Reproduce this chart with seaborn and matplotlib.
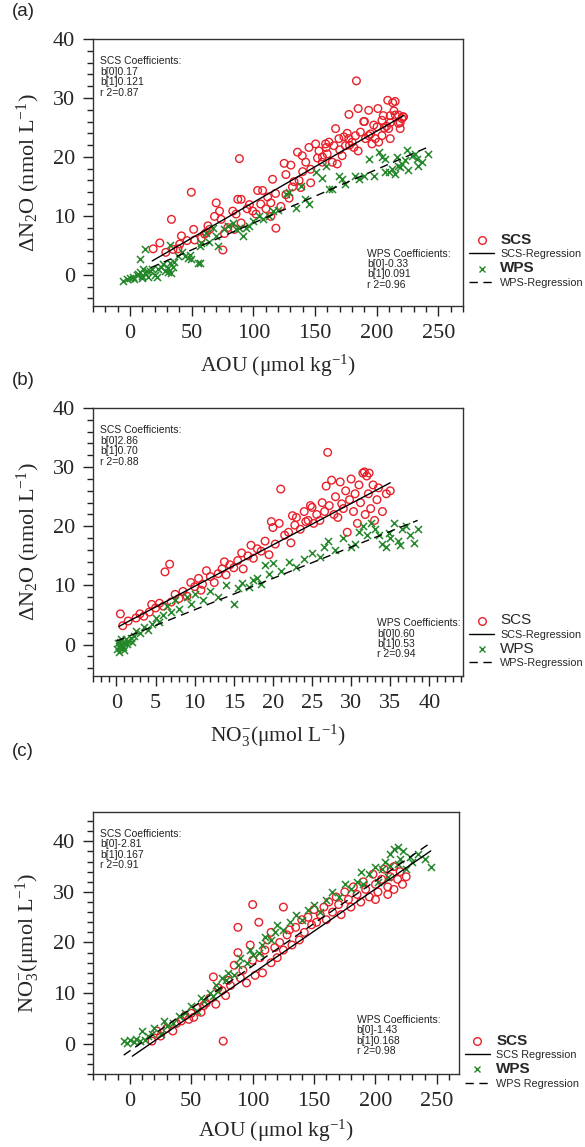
import numpy as np
import pandas as pd
import matplotlib
matplotlib.use("Agg")
import matplotlib.pyplot as plt
from matplotlib.ticker import MultipleLocator
from matplotlib.lines import Line2D
from matplotlib import font_manager as fm
import seaborn as sns

# ---------------- data ----------------
# Panel (a): AOU vs dN2O
a_scs_x = [18.8, 24.2, 29.0, 33.6, 34.9, 38.9, 40.3, 41.7, 46.2, 49.7, 51.6, 52.4, 57.8, 60.5, 63.2, 64.5,
           69.9, 68.5, 72.6, 73.9, 75.3, 76.6, 79.3, 83.3, 86.0, 84.7, 87.4, 90.1, 88.7, 90.1, 96.8, 99.5,
           102.2, 103.5, 107.5, 110.2, 111.6, 114.2, 115.6, 114.2, 118.3, 122.3, 126.4, 129.0, 125.0, 130.4,
           126.4, 131.7, 135.8, 137.1, 138.4, 139.7, 142.5, 145.1, 146.5, 146.5, 150.5, 153.2, 155.9, 158.6,
           159.1, 159.9, 161.3, 164.0, 165.3, 166.7, 168.0, 169.4, 172.0, 173.4, 174.7, 176.1, 177.4, 180.1,
           181.5, 182.8, 186.8, 189.5, 190.9, 193.5, 196.2, 198.9, 200.3, 201.6, 204.3, 209.7, 211.0, 215.1,
           217.7, 219.1, 220.4, 221.8, 183.6, 209.0, 213.0, 215.0, 185.0, 177.5, 193.5, 201.0, 205.4, 211.0,
           217.7, 221.2, 190.1, 204.3, 211.0, 219.1, 197.6, 206.2, 95.0, 118.0, 140.0, 152.0, 170.0, 185.0,
           62.0, 106.0, 133.0, 156.0, 178.0, 195.0, 208.0, 214.0]
a_scs_y = [4.4, 5.4, 3.8, 9.4, 4.3, 4.4, 5.2, 6.6, 5.8, 14.0, 7.7, 5.9, 6.2, 6.9, 8.3, 7.7,
           12.2, 9.9, 10.8, 9.4, 4.2, 7.0, 8.0, 10.8, 10.3, 7.7, 12.8, 12.8, 19.7, 8.8, 11.9, 10.8,
           10.3, 14.3, 14.3, 11.2, 13.2, 12.2, 16.2, 9.9, 7.9, 11.6, 13.6, 13.0, 18.9, 18.6,
           17.0, 14.9, 20.8, 16.0, 14.8, 20.2, 19.1, 21.6, 17.9, 15.6, 22.2, 21.0, 19.1, 22.2,
           21.6, 20.5, 22.5, 19.1, 21.9, 24.8, 18.8, 23.1, 20.2, 23.4, 21.9, 24.0, 23.1, 22.5,
           21.6, 23.6, 24.2, 26.0, 23.1, 23.6, 22.2, 23.1, 25.1, 22.5, 23.6, 24.8, 23.1, 27.1,
           25.7, 24.8, 26.5, 26.8, 32.9, 29.6, 29.2, 29.4, 28.2, 27.2, 27.9, 28.2, 27.0, 27.0,
           27.1, 26.8, 26.0, 26.2, 25.8, 25.8, 25.4, 24.9, 11.2, 13.8, 17.5, 19.8, 21.2, 21.0,
           7.2, 12.0, 15.8, 20.0, 22.0, 23.9, 25.2, 27.8]
a_wps_x = [-5.4, -2.7, 0.0, 2.7, 5.4, 8.1, 9.4, 10.8, 12.1, 14.8, 16.1, 20.2, 21.5, 25.5, 28.2, 30.9,
           32.3, 33.6, 35.0, 39.0, 44.4, 47.0, 49.7, 56.4, 57.8, 61.8, 67.2, 69.9, 71.2, 76.6, 79.3,
           83.3, 86.0, 91.4, 94.1, 96.8, 104.8, 107.5, 112.9, 115.6, 126.3, 129.0, 134.4, 138.4, 145.2,
           150.5, 155.9, 158.6, 161.3, 164.0, 169.4, 172.0, 174.7, 182.8, 185.5, 189.5, 193.5, 197.6,
           201.6, 204.3, 207.0, 207.0, 209.7, 212.4, 215.1, 216.4, 217.7, 219.1, 220.4, 223.1, 224.5,
           225.8, 228.5, 231.2, 232.5, 233.9, 236.6, 241.9, 12.1, 8.1, 32.3, 55.1, 48.4, 56.4, 3.5,
           6.5, 10.0, 13.5, 18.0, 23.0, 27.0, 31.0, 36.0, 42.0, 64.0, 88.0, 100.0, 120.0, 142.0]
a_wps_y = [-1.1, -0.7, -0.6, -0.3, 0.0, 0.4, -0.2, 0.9, 0.3, -0.3, 0.6, 0.0, -0.3, 1.4, 0.6, 1.1,
           2.0, 0.3, 1.4, 3.1, 3.1, 2.9, 2.6, 2.0, 5.4, 7.1, 8.0, 6.6, 4.8, 7.7, 8.3,
           8.8, 7.7, 6.6, 8.0, 8.3, 10.0, 9.4, 10.0, 10.8, 13.7, 14.0, 11.4, 15.1, 12.0,
           17.4, 16.5, 18.5, 14.5, 14.5, 16.8, 16.2, 15.4, 16.8, 16.2, 16.8, 19.7, 16.8,
           20.8, 20.0, 19.7, 17.4, 17.4, 18.0, 17.1, 20.0, 18.5, 18.2, 18.8, 19.4, 21.1,
           17.7, 20.2, 20.5, 19.7, 18.5, 19.1, 20.5, 4.3, 2.7, 5.1, 2.0, 3.4, 4.8, -0.8,
           0.2, -0.5, 0.6, 1.0, 0.9, 1.8, 0.5, 2.2, 3.8, 5.6, 7.9, 9.2, 11.0, 12.8]

# Panel (b): NO3 vs dN2O
b_scs_x = [0.5, 0.8, 1.5, 2.5, 3.0, 3.5, 4.2, 4.5, 5.0, 5.5, 6.0, 6.2, 6.8, 7.0, 7.5, 8.0,
           8.5, 9.0, 9.5, 10.0, 10.5, 11.0, 11.5, 12.0, 12.5, 13.0, 13.5, 14.0, 14.5, 15.0, 15.5, 16.0, 16.2,
           16.8, 17.5, 18.0, 18.5, 19.0, 19.5, 20.0, 20.3, 20.8, 21.0, 21.5, 22.0, 22.3, 22.8, 23.0, 23.5, 24.0, 24.2,
           24.5, 25.0, 25.2, 25.6, 26.0, 26.3, 26.6, 27.0, 27.2, 27.5, 27.8, 28.0, 28.3, 28.6, 29.0, 29.3, 29.5, 29.8,
           30.0, 30.3, 30.5, 30.8, 31.0, 31.2, 31.5, 31.8, 32.0, 32.2, 32.5, 32.8, 33.0, 33.3, 33.5, 34.0, 34.5, 35.0,
           31.7, 32.3, 26.8, 28.8, 24.8, 22.5, 19.8, 17.2, 13.8, 10.8]
b_scs_y = [5.2, 3.2, 4.0, 4.5, 5.2, 4.8, 5.5, 6.8, 6.2, 7.0, 6.5, 12.3, 13.6, 7.2, 8.5, 7.8,
           9.0, 8.2, 10.5, 9.8, 11.2, 10.2, 12.5, 11.5, 10.5, 12.0, 12.8, 11.8, 13.5, 13.0, 14.2, 15.5, 12.8,
           15.0, 14.6, 16.2, 15.8, 17.5, 15.2, 19.8, 17.0, 20.5, 26.3, 18.5, 19.0, 17.2, 20.2, 21.5, 19.5, 22.5, 20.8,
           21.0, 23.2, 20.5, 22.0, 21.0, 24.0, 22.5, 32.5, 23.5, 27.8, 22.0, 25.0, 21.5, 27.5, 23.0, 26.0, 19.0, 24.5,
           28.0, 22.5, 25.5, 20.5, 27.0, 24.0, 29.0, 22.0, 28.5, 25.5, 23.0, 27.0, 21.0, 24.5, 26.5, 22.5, 25.5, 26.0,
           29.2, 29.0, 26.8, 23.8, 23.5, 21.8, 20.8, 16.8, 14.0, 9.2]
b_wps_x = [0.1, 0.2, 0.3, 0.4, 0.5, 0.6, 0.7, 0.8, 1.0, 1.2, 1.5, 1.8, 2.0, 2.3, 2.5, 3.0, 3.5, 4.0, 4.5,
           5.0, 5.5, 6.0, 6.5, 7.0, 7.5, 8.0, 9.0, 9.5, 10.0, 11.0, 12.0, 13.0, 14.0, 15.0, 15.5, 16.0,
           17.0, 17.5, 18.0, 18.5, 19.0, 19.5, 20.0, 21.0, 22.0, 23.0, 24.0, 25.0, 26.0, 26.5, 27.0, 28.0,
           29.0, 30.0, 30.5, 31.0, 31.5, 32.0, 32.5, 33.0, 33.5, 34.0, 34.5, 35.0, 35.5, 36.0, 36.5, 37.0,
           37.5, 38.0, 38.5, 34.8, 36.2, 0.3, 0.9, 1.4]
b_wps_y = [-0.8, 0.2, -0.3, 0.5, -0.6, 0.9, 0.0, -0.4, 0.3, 1.0, 0.6, 1.2, 0.4, 1.5, 2.3, 2.0, 3.0, 2.5, 3.5,
           4.5, 3.8, 5.0, 6.5, 5.5, 7.5, 6.0, 8.0, 6.8, 8.5, 7.5, 9.0, 8.0, 10.0, 6.8, 9.5, 10.5,
           9.8, 11.0, 11.2, 10.2, 13.5, 12.0, 13.8, 12.5, 14.0, 13.2, 14.5, 15.5, 14.8, 16.5, 17.5, 16.0,
           18.0, 16.5, 17.0, 19.0, 20.0, 18.5, 20.5, 19.5, 18.5, 17.0, 16.5, 18.0, 20.5, 17.5, 19.5, 20.0,
           18.5, 17.2, 19.5, 18.8, 16.8, -1.2, -0.9, 0.1]

# Panel (c): AOU vs NO3
c_scs_x = [18, 22, 25, 30, 35, 38, 42, 45, 48, 50, 52, 55, 58, 60, 62, 65, 68, 70, 72, 75, 76, 78, 80, 82,
           85, 88, 88, 90, 92, 95, 98, 100, 100, 102, 105, 106, 108, 110, 112, 115, 115, 118, 120, 122, 125,
           125, 128, 130, 132, 135, 138, 140, 142, 145, 148, 150, 152, 155, 158, 160, 162, 165, 168, 170, 172,
           175, 178, 180, 182, 185, 188, 190, 192, 195, 198, 200, 202, 205, 207, 210, 212, 215, 218, 220, 222,
           225, 210, 200, 215]
c_scs_y = [0.5, 2.5, 1.5, 3.0, 2.5, 4.0, 4.5, 5.5, 4.8, 6.0, 5.2, 7.0, 6.2, 7.5, 8.0, 9.0, 13.2, 7.8, 11.0,
           10.5, 0.5, 9.5, 12.5, 11.5, 15.5, 18.0, 23.0, 13.0, 14.5, 12.0, 19.5, 27.5, 16.5, 13.5, 24.0, 17.0,
           14.0, 18.5, 20.5, 16.0, 22.0, 19.0, 17.0, 20.0, 27.0, 18.5, 21.5, 22.5, 19.5, 23.0, 20.5, 24.5, 22.0,
           25.0, 23.5, 26.5, 24.0, 25.5, 27.0, 24.5, 28.0, 26.0, 29.0, 27.5, 25.5, 30.0, 28.5, 27.0, 31.0, 29.5,
           28.0, 32.0, 30.5, 29.0, 33.5, 31.5, 30.0, 32.5, 34.5, 31.0, 33.0, 30.5, 32.5, 34.0, 31.5, 33.0, 29.5,
           28.5, 35.0]
c_wps_x = [-5, -2, 0, 3, 5, 8, 10, 12, 15, 18, 20, 25, 28, 30, 35, 40, 45, 50, 55, 58, 60, 65, 68, 70, 72,
           75, 78, 80, 85, 88, 90, 95, 98, 100, 105, 108, 110, 115, 118, 120, 125, 130, 135, 140, 145, 150,
           155, 160, 165, 170, 175, 180, 185, 188, 190, 195, 200, 202, 205, 208, 210, 212, 215, 218, 220, 222,
           225, 228, 230, 235, 240, 245, 218, 212]
c_wps_y = [0.5, 0.2, 0.8, 0.3, 1.0, 0.5, 2.5, 0.8, 1.5, 2.0, 3.0, 2.0, 4.5, 3.5, 4.0, 5.5, 6.0, 7.5, 6.5,
           9.0, 8.5, 10.0, 9.5, 11.5, 10.5, 13.0, 12.5, 14.0, 13.5, 15.5, 17.0, 16.0, 18.5, 17.5, 18.0, 19.5,
           21.0, 20.5, 22.0, 23.5, 22.5, 24.0, 25.5, 24.5, 26.5, 27.5, 26.0, 28.5, 30.0, 29.0, 31.5, 30.5,
           32.0, 34.0, 31.5, 33.5, 35.0, 32.0, 34.5, 36.0, 33.0, 37.5, 38.5, 35.5, 36.5, 38.0, 34.5, 37.0,
           36.0, 37.5, 36.5, 35.0, 38.8, 35.2]

# regression coefficients (b0, b1) and line extents
a_scs_coef, a_wps_coef = (0.17, 0.121), (-0.33, 0.091)
b_scs_coef, b_wps_coef = (2.86, 0.70), (0.60, 0.53)
c_scs_coef, c_wps_coef = (-2.81, 0.167), (-1.43, 0.168)
a_scs_ext, a_wps_ext = [18, 222], [17, 243]
b_scs_ext, b_wps_ext = [0.3, 35], [0.0, 38.5]
c_scs_ext, c_wps_ext = [2, 245], [-5, 245]

a_scs_txt = ["SCS Coefficients:", "b[0]0.17", "b[1]0.121", "r 2=0.87"]
a_wps_txt = ["WPS Coefficients:", "b[0]-0.33", "b[1]0.091", "r 2=0.96"]
b_scs_txt = ["SCS Coefficients:", "b[0]2.86", "b[1]0.70", "r 2=0.88"]
b_wps_txt = ["WPS Coefficients:", "b[0]0.60", "b[1]0.53", "r 2=0.94"]
c_scs_txt = ["SCS Coefficients:", "b[0]-2.81", "b[1]0.167", "r 2=0.91"]
c_wps_txt = ["WPS Coefficients:", "b[0]-1.43", "b[1]0.168", "r 2=0.98"]

# ---------------- style ----------------
sns.set_theme(style="ticks")


def find_font(name, bold=False):
    for f in fm.fontManager.ttflist:
        if f.name == name and f.style == "normal" and "Narrow" not in f.fname:
            w = f.weight if isinstance(f.weight, int) else (700 if "bold" in str(f.weight) else 400)
            if (w >= 600) == bold:
                return f.fname
    return None

sans_path = find_font("Liberation Sans")
sansb_path = find_font("Liberation Sans", bold=True)


def sans(size, bold=False):
    p = sansb_path if bold else sans_path
    if p:
        return fm.FontProperties(fname=p, size=size)
    return fm.FontProperties(family="DejaVu Sans", size=size, weight="bold" if bold else "normal")

plt.rcParams["font.family"] = ["Liberation Sans", "DejaVu Sans"]
plt.rcParams["mathtext.fontset"] = "custom"
plt.rcParams["mathtext.rm"] = "Liberation Serif"
plt.rcParams["mathtext.it"] = "Liberation Serif:italic"
plt.rcParams["mathtext.bf"] = "Liberation Serif:bold"

RED = "#e8202a"
GREEN = "#24882a"
SERIF = "Liberation Serif"

fig = plt.figure(figsize=(5.85, 11.47), dpi=100)
W, H = 585.0, 1147.0

def make_ax(l, r, t, b):
    return fig.add_axes([l / W, 1 - b / H, (r - l) / W, (b - t) / H])

axa = make_ax(93, 463, 39, 306)
axb = make_ax(93, 463, 408, 676)
axc = make_ax(93, 459, 812, 1074)


def draw(ax, sx, sy, wx, wy, scoef, wcoef, sext, wext):
    sns.scatterplot(x=sx, y=sy, ax=ax, marker="o", s=30, facecolor="none",
                    edgecolor=RED, linewidth=1.0, zorder=3)
    sns.scatterplot(x=wx, y=wy, ax=ax, marker="x", s=26, color=GREEN,
                    linewidth=1.1, zorder=3)
    sxl = np.array(sext, dtype=float)
    wxl = np.array(wext, dtype=float)
    sns.lineplot(x=sxl, y=scoef[0] + scoef[1] * sxl, ax=ax, color="black", lw=1.0, zorder=4)
    sns.lineplot(x=wxl, y=wcoef[0] + wcoef[1] * wxl, ax=ax, color="black", lw=1.0,
                 zorder=4).lines[-1].set_dashes([6, 4])


draw(axa, a_scs_x, a_scs_y, a_wps_x, a_wps_y, a_scs_coef, a_wps_coef, a_scs_ext, a_wps_ext)
draw(axb, b_scs_x, b_scs_y, b_wps_x, b_wps_y, b_scs_coef, b_wps_coef, b_scs_ext, b_wps_ext)
draw(axc, c_scs_x, c_scs_y, c_wps_x, c_wps_y, c_scs_coef, c_wps_coef, c_scs_ext, c_wps_ext)

axa.set_xlim(-30, 270); axa.set_ylim(-5.3, 40)
axb.set_xlim(-3, 44.3); axb.set_ylim(-5.3, 40)
axc.set_xlim(-30, 268); axc.set_ylim(-6.0, 45.8)

for ax, xmaj, xmin in [(axa, 50, 10), (axb, 5, 1), (axc, 50, 10)]:
    ax.xaxis.set_major_locator(MultipleLocator(xmaj))
    ax.xaxis.set_minor_locator(MultipleLocator(xmin))
    ax.yaxis.set_major_locator(MultipleLocator(10))
    ax.yaxis.set_minor_locator(MultipleLocator(2))
    ax.tick_params(which="major", direction="out", length=7, width=1.0, color="#222222",
                   labelsize=16, pad=6)
    ax.tick_params(which="minor", direction="out", length=4, width=1.0, color="#222222")
    for lab in ax.get_xticklabels() + ax.get_yticklabels():
        lab.set_fontfamily(SERIF)
    for sp in ax.spines.values():
        sp.set_visible(True)
        sp.set_linewidth(1.0)
        sp.set_color("#333333")
    ax.set_facecolor("white")

LAB = 15.5
NO3_LABEL = "NO$_3^{-}$(\u03bcmol L$^{-1}$)"
axa.set_xlabel("AOU (\u03bcmol kg$^{-1}$)", fontsize=LAB, fontfamily=SERIF, labelpad=7)
axc.set_xlabel("AOU (\u03bcmol kg$^{-1}$)", fontsize=LAB, fontfamily=SERIF, labelpad=5)
axb.set_xlabel(NO3_LABEL, fontsize=LAB, fontfamily=SERIF, labelpad=7)
axa.set_ylabel("\u0394N$_2$O (nmol L$^{-1}$)", fontsize=LAB + 0.5, fontfamily=SERIF, labelpad=8)
axb.set_ylabel("\u0394N$_2$O (nmol L$^{-1}$)", fontsize=LAB + 0.5, fontfamily=SERIF, labelpad=8)
axc.set_ylabel(NO3_LABEL, fontsize=LAB + 0.5, fontfamily=SERIF, labelpad=8)

# coefficient boxes
for ax, st, wt, wpos in [(axa, a_scs_txt, a_wps_txt, (0.74, 0.215)),
                         (axb, b_scs_txt, b_wps_txt, (0.768, 0.216)),
                         (axc, c_scs_txt, c_wps_txt, (0.72, 0.225))]:
    ax.text(0.02, 0.935, "\n".join(st), transform=ax.transAxes, fontproperties=sans(7.5),
            va="top", ha="left", linespacing=1.05, color="#222222")
    ax.text(wpos[0], wpos[1], "\n".join(wt), transform=ax.transAxes, fontproperties=sans(7.5),
            va="top", ha="left", linespacing=1.05, color="#222222")

# panel labels
for lbl, y in [("(a)", 12), ("(b)", 381), ("(c)", 752)]:
    fig.text(12 / W, 1 - y / H, lbl, va="center", ha="left", fontproperties=sans(13.5))


def add_legend(ax, bold, sep, anchor):
    handles = [
        Line2D([], [], marker="o", ls="none", mfc="none", mec=RED, mew=1.0, ms=5.5),
        Line2D([], [], color="black", lw=1.0),
        Line2D([], [], marker="x", ls="none", color=GREEN, mew=1.0, ms=5),
        Line2D([], [], color="black", lw=1.0, dashes=[6, 4]),
    ]
    labels = ["SCS", "SCS" + sep + "Regression", "WPS", "WPS" + sep + "Regression"]
    leg = ax.legend(handles, labels, loc="upper left", bbox_to_anchor=anchor,
                    frameon=False, handlelength=2.2, handletextpad=0.6,
                    labelspacing=0.2, borderaxespad=0, prop=sans(8))
    texts = leg.get_texts()
    for i in (0, 2):
        texts[i].set_fontproperties(sans(11, bold=bold))
    for i in (1, 3):
        texts[i].set_fontproperties(sans(7.8))
    return leg

add_legend(axa, True, "-", (1.005, 0.29))
add_legend(axb, False, "-", (1.005, 0.25))
add_legend(axc, True, " ", (1.005, 0.17))

fig.savefig("out.png", dpi=100, facecolor="white")
